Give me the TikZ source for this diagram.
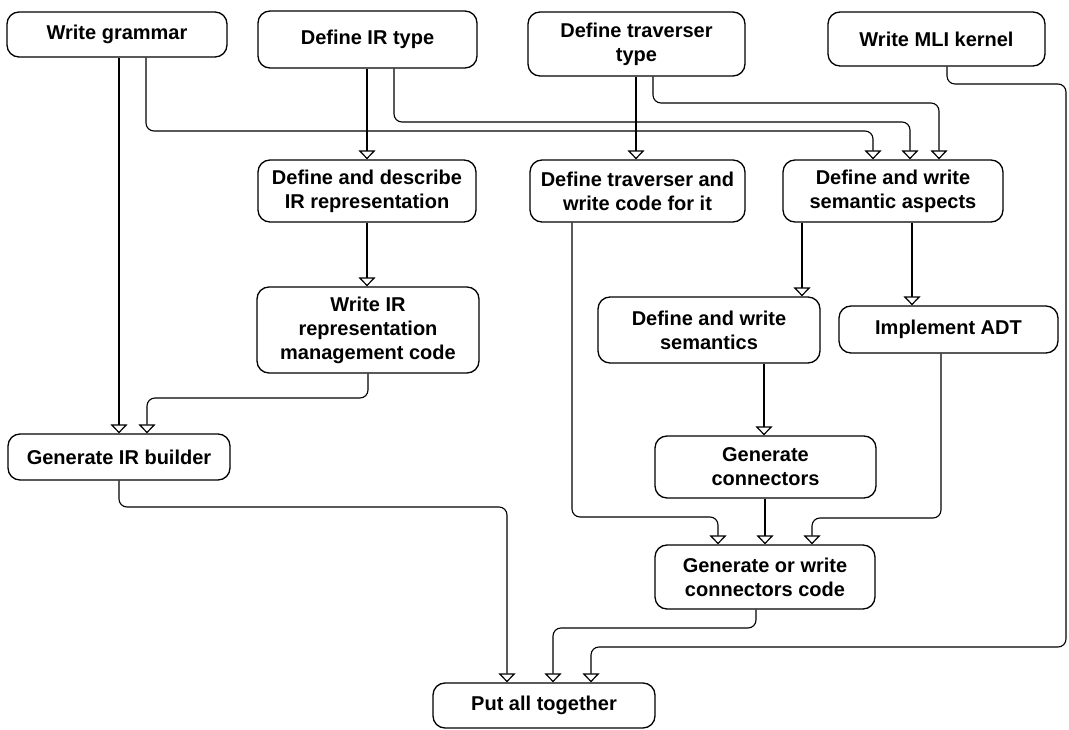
\documentclass[tikz,border=0pt]{standalone}
\usepackage{fontspec}
\setmainfont{Liberation Sans}
\usetikzlibrary{arrows.meta}
\begin{document}
\begin{tikzpicture}[x=1pt,y=-1pt,
  task/.style={draw, line width=1.3pt, rounded corners=12pt, align=center,
    inner sep=0pt, font=\bfseries\fontsize{20}{24}\selectfont},
  flow/.style={line width=1.1pt, rounded corners=8pt,
    -{Triangle[open, length=9pt, width=17pt, line width=1.2pt]}}]
\useasboundingbox (0,0) rectangle (1069,730);

% activities
\node[task, minimum width=220pt, minimum height=45pt] (grammar)  at (117,34.5) {Write grammar};
\node[task, minimum width=219pt, minimum height=57pt] (irtype)   at (367.5,39.5) {Define IR type};
\node[task, minimum width=217pt, minimum height=64pt] (travtype) at (636.5,44) {Define traverser\\type};
\node[task, minimum width=217pt, minimum height=54pt] (mli)      at (936.5,39) {Write MLI kernel};
\node[task, minimum width=218pt, minimum height=62pt] (irdesc)   at (367,191) {Define and describe\\IR representation};
\node[task, minimum width=215pt, minimum height=62pt] (travdef)  at (637.5,191) {Define traverser and\\write code for it};
\node[task, minimum width=220pt, minimum height=62pt] (semasp)   at (893,191) {Define and write\\semantic aspects};
\node[task, minimum width=222pt, minimum height=86pt] (irmgmt)   at (368,330) {Write IR\\representation\\management code};
\node[task, minimum width=222pt, minimum height=46pt] (irbuild)  at (119,457) {Generate IR builder};
\node[task, minimum width=222pt, minimum height=66pt] (sem)      at (709,330) {Define and write\\semantics};
\node[task, minimum width=219pt, minimum height=47pt] (adt)      at (948.5,329.5) {Implement ADT};
\node[task, minimum width=221pt, minimum height=62pt] (genconn)  at (765.5,467) {Generate\\connectors};
\node[task, minimum width=220pt, minimum height=64pt] (gencode)  at (765,577) {Generate or write\\connectors code};
\node[task, minimum width=222pt, minimum height=45pt] (together) at (544,705.5) {Put all together};

% dependencies
\draw[flow] (119,0 |- grammar.south) -- (119,0 |- irbuild.north);
\draw[flow] (146,0 |- grammar.south) -- (146,131) -- (873,131) -- (873,0 |- semasp.north);
\draw[flow] (367,0 |- irtype.south) -- (367,0 |- irdesc.north);
\draw[flow] (394,0 |- irtype.south) -- (394,122) -- (910,122) -- (910,0 |- semasp.north);
\draw[flow] (636,0 |- travtype.south) -- (636,0 |- travdef.north);
\draw[flow] (653,0 |- travtype.south) -- (653,103) -- (939,103) -- (939,0 |- semasp.north);
\draw[flow] (947,0 |- mli.south) -- (947,84) -- (1066,84) -- (1066,647) -- (591,647) -- (591,0 |- together.north);
\draw[flow] (367,0 |- irdesc.south) -- (367,0 |- irmgmt.north);
\draw[flow] (368,0 |- irmgmt.south) -- (368,398) -- (147,398) -- (147,0 |- irbuild.north);
\draw[flow] (572,0 |- travdef.south) -- (572,517) -- (718,517) -- (718,0 |- gencode.north);
\draw[flow] (802,0 |- semasp.south) -- (802,0 |- sem.north);
\draw[flow] (912,0 |- semasp.south) -- (912,0 |- adt.north);
\draw[flow] (764,0 |- sem.south) -- (764,0 |- genconn.north);
\draw[flow] (941,0 |- adt.south) -- (941,518) -- (812,518) -- (812,0 |- gencode.north);
\draw[flow] (765,0 |- genconn.south) -- (765,0 |- gencode.north);
\draw[flow] (756,0 |- gencode.south) -- (756,628) -- (553,628) -- (553,0 |- together.north);
\draw[flow] (119,0 |- irbuild.south) -- (119,507) -- (507,507) -- (507,0 |- together.north);
\end{tikzpicture}
\end{document}
